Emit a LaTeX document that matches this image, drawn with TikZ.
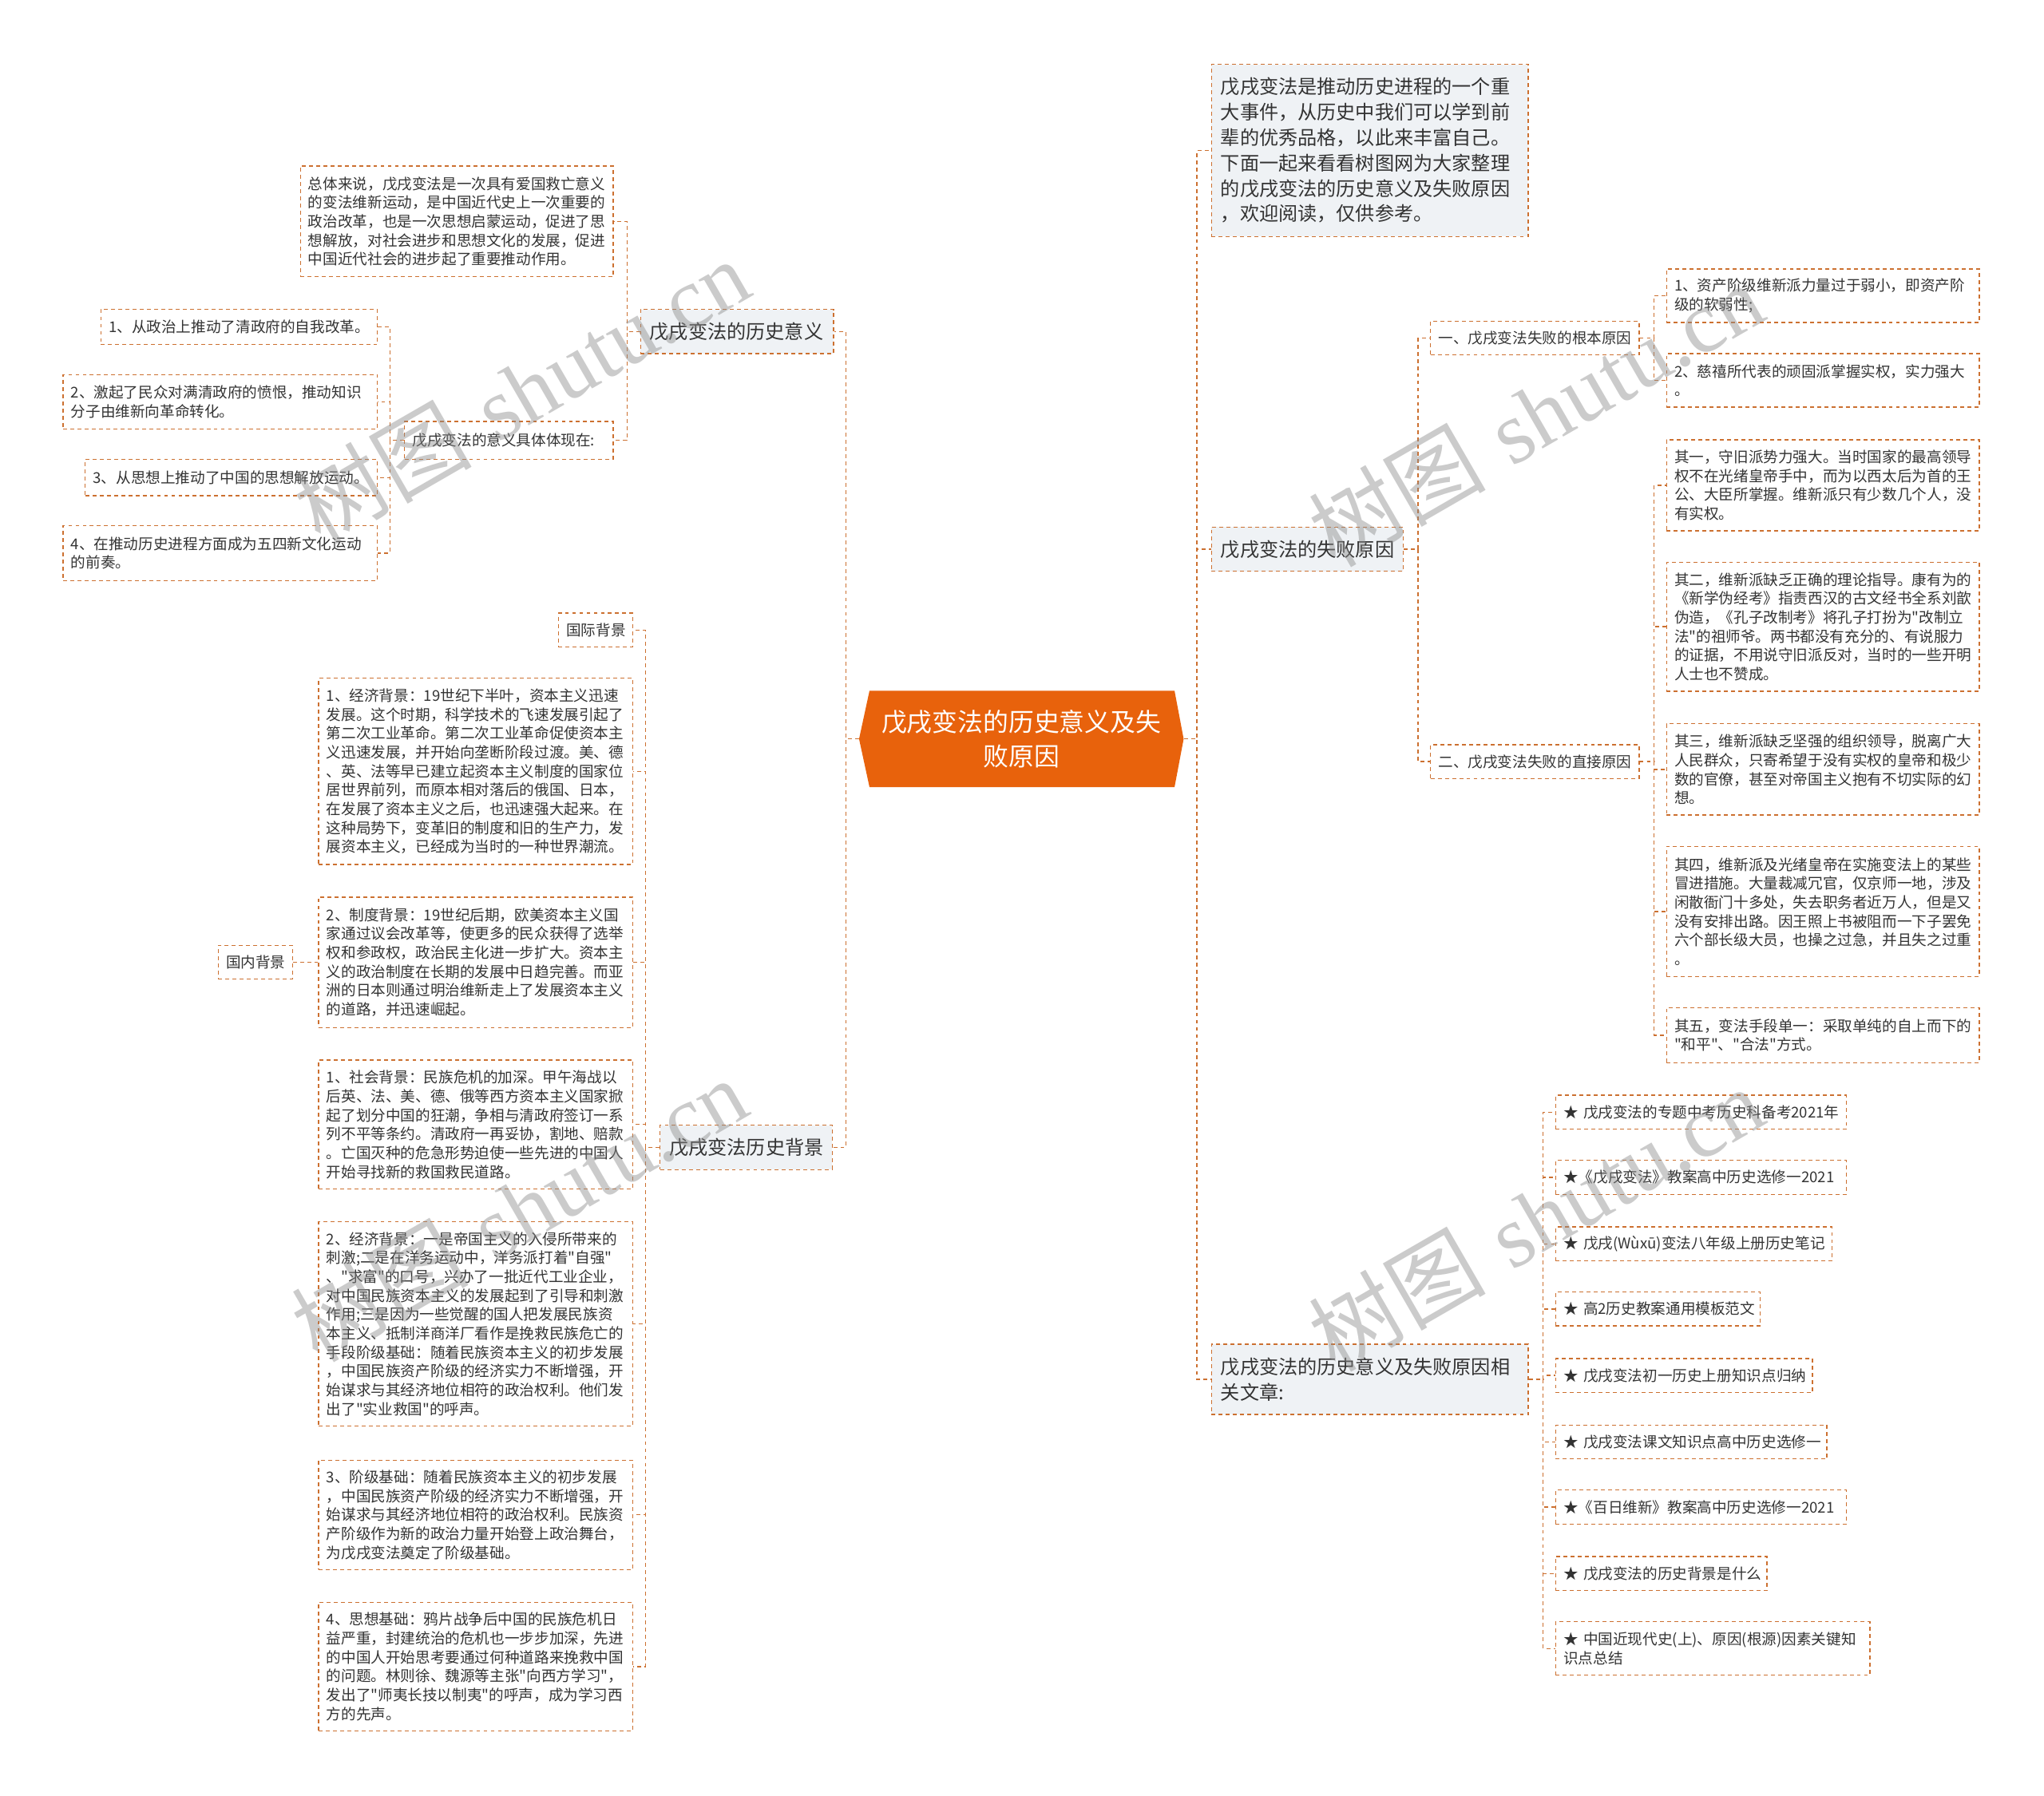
\documentclass[tikz,border=0pt]{standalone}
\usepackage{fontspec}
\newfontfamily\cjk{Noto Sans CJK SC}
\newfontfamily\shuiyinfont{Liberation Serif}
\definecolor{xianse}{RGB}{204,112,48}
\definecolor{zhuse}{RGB}{232,98,12}
\definecolor{huise}{RGB}{239,242,245}
\definecolor{wenzi}{RGB}{51,51,51}

\begin{document}
\begin{tikzpicture}[x=1pt, y=-1pt,
    lianxian/.style={draw=xianse, line width=0.8pt, dash pattern=on 3pt off 2.5pt},
    yezi/.style={draw=xianse, line width=0.8pt, dash pattern=on 3pt off 2.5pt,
      text=wenzi, font=\cjk\fontsize{11.4}{14.5}\selectfont, align=left,
      anchor=north west, inner xsep=6pt, inner ysep=0pt},
    fenzhi/.style={yezi, fill=huise, font=\cjk\fontsize{14.8}{19.5}\selectfont, inner xsep=7pt},
    shuiyin/.style={text=black!45, text opacity=0.45, rotate=30, font=\fontsize{68}{68}\selectfont}]
  \useasboundingbox (0,0) rectangle (1568,1378);

  % 中心主题
  \fill[zhuse] (659,567) -- (667,530) -- (901,530) -- (908,567) -- (901,604) -- (667,604) -- cycle;
  \node[text=white, font=\cjk\fontsize{19.5}{26}\selectfont, align=center,
    minimum width=249pt, minimum height=74pt, inner sep=0pt] (zhong) at (783.5,567)
    {戊戌变法的历史意义及失\\败原因};

  % 左侧：历史意义
  \node[fenzhi, text width=134pt, minimum height=34pt] (yiyi) at (491,237) {戊戌变法的历史意义};
  \node[yezi, text width=228pt, minimum height=85pt] (zongti) at (230,127)
    {总体来说，戊戌变法是一次具有爱国救亡意义\\的变法维新运动，是中国近代史上一次重要的\\政治改革，也是一次思想启蒙运动，促进了思\\想解放，对社会进步和思想文化的发展，促进\\中国近代社会的进步起了重要推动作用。};
  \node[yezi, text width=148pt, minimum height=29pt] (tixian) at (310,323) {戊戌变法的意义具体体现在:};
  \node[yezi, text width=200pt, minimum height=27pt] (tx1) at (77,237) {1、从政治上推动了清政府的自我改革。};
  \node[yezi, text width=229pt, minimum height=42pt] (tx2) at (48,287) {2、激起了民众对满清政府的愤恨，推动知识\\分子由维新向革命转化。};
  \node[yezi, text width=212pt, minimum height=28pt] (tx3) at (65,352) {3、从思想上推动了中国的思想解放运动。};
  \node[yezi, text width=229pt, minimum height=42pt] (tx4) at (48,403) {4、在推动历史进程方面成为五四新文化运动\\的前奏。};

  % 左侧：历史背景
  \node[fenzhi, text width=118pt, minimum height=34pt] (beijing) at (506,863) {戊戌变法历史背景};
  \node[yezi, text width=45pt, minimum height=26pt] (guoji) at (428,470) {国际背景};
  \node[yezi, text width=45pt, minimum height=26pt] (guonei) at (167,725) {国内背景};
  \node[yezi, text width=229pt, minimum height=143pt] (jingji1) at (244,520)
    {1、经济背景：19世纪下半叶，资本主义迅速\\发展。这个时期，科学技术的飞速发展引起了\\第二次工业革命。第二次工业革命促使资本主\\义迅速发展，并开始向垄断阶段过渡。美、德\\、英、法等早已建立起资本主义制度的国家位\\居世界前列，而原本相对落后的俄国、日本，\\在发展了资本主义之后，也迅速强大起来。在\\这种局势下，变革旧的制度和旧的生产力，发\\展资本主义，已经成为当时的一种世界潮流。};
  \node[yezi, text width=229pt, minimum height=100pt] (zhidu) at (244,688)
    {2、制度背景：19世纪后期，欧美资本主义国\\家通过议会改革等，使更多的民众获得了选举\\权和参政权，政治民主化进一步扩大。资本主\\义的政治制度在长期的发展中日趋完善。而亚\\洲的日本则通过明治维新走上了发展资本主义\\的道路，并迅速崛起。};
  \node[yezi, text width=229pt, minimum height=99pt] (shehui) at (244,813)
    {1、社会背景：民族危机的加深。甲午海战以\\后英、法、美、德、俄等西方资本主义国家掀\\起了划分中国的狂潮，争相与清政府签订一系\\列不平等条约。清政府一再妥协，割地、赔款\\。亡国灭种的危急形势迫使一些先进的中国人\\开始寻找新的救国救民道路。};
  \node[yezi, text width=229pt, minimum height=157pt] (jingji2) at (244,937)
    {2、经济背景：一是帝国主义的入侵所带来的\\刺激;二是在洋务运动中，洋务派打着"自强"\\、"求富"的口号，兴办了一批近代工业企业，\\对中国民族资本主义的发展起到了引导和刺激\\作用;三是因为一些觉醒的国人把发展民族资\\本主义、抵制洋商洋厂看作是挽救民族危亡的\\手段阶级基础：随着民族资本主义的初步发展\\，中国民族资产阶级的经济实力不断增强，开\\始谋求与其经济地位相符的政治权利。他们发\\出了"实业救国"的呼声。};
  \node[yezi, text width=229pt, minimum height=84pt] (jieji) at (244,1120)
    {3、阶级基础：随着民族资本主义的初步发展\\，中国民族资产阶级的经济实力不断增强，开\\始谋求与其经济地位相符的政治权利。民族资\\产阶级作为新的政治力量开始登上政治舞台，\\为戊戌变法奠定了阶级基础。};
  \node[yezi, text width=229pt, minimum height=99pt] (sixiang) at (244,1229)
    {4、思想基础：鸦片战争后中国的民族危机日\\益严重，封建统治的危机也一步步加深，先进\\的中国人开始思考要通过何种道路来挽救中国\\的问题。林则徐、魏源等主张"向西方学习"，\\发出了"师夷长技以制夷"的呼声，成为学习西\\方的先声。};

  % 右侧：导语与失败原因
  \node[fenzhi, text width=229pt, minimum height=132pt] (yinyan) at (929,49)
    {戊戌变法是推动历史进程的一个重\\大事件，从历史中我们可以学到前\\辈的优秀品格，以此来丰富自己。\\下面一起来看看树图网为大家整理\\的戊戌变法的历史意义及失败原因\\，欢迎阅读，仅供参考。};
  \node[fenzhi, text width=133pt, minimum height=34pt] (shibai) at (929,404) {戊戌变法的失败原因};
  \node[yezi, text width=148pt, minimum height=26pt] (genben) at (1097,246) {一、戊戌变法失败的根本原因};
  \node[yezi, text width=148pt, minimum height=26pt] (zhijie) at (1097,571) {二、戊戌变法失败的直接原因};
  \node[yezi, text width=228pt, minimum height=41pt] (gb1) at (1278,206) {1、资产阶级维新派力量过于弱小，即资产阶\\级的软弱性;};
  \node[yezi, text width=228pt, minimum height=41pt] (gb2) at (1278,271) {2、慈禧所代表的顽固派掌握实权，实力强大\\。};
  \node[yezi, text width=228pt, minimum height=70pt] (qi1) at (1278,337)
    {其一，守旧派势力强大。当时国家的最高领导\\权不在光绪皇帝手中，而为以西太后为首的王\\公、大臣所掌握。维新派只有少数几个人，没\\有实权。};
  \node[yezi, text width=228pt, minimum height=99pt] (qi2) at (1278,431)
    {其二，维新派缺乏正确的理论指导。康有为的\\《新学伪经考》指责西汉的古文经书全系刘歆\\伪造，《孔子改制考》将孔子打扮为"改制立\\法"的祖师爷。两书都没有充分的、有说服力\\的证据，不用说守旧派反对，当时的一些开明\\人士也不赞成。};
  \node[yezi, text width=228pt, minimum height=70pt] (qi3) at (1278,555)
    {其三，维新派缺乏坚强的组织领导，脱离广大\\人民群众，只寄希望于没有实权的皇帝和极少\\数的官僚，甚至对帝国主义抱有不切实际的幻\\想。};
  \node[yezi, text width=228pt, minimum height=100pt] (qi4) at (1278,649)
    {其四，维新派及光绪皇帝在实施变法上的某些\\冒进措施。大量裁减冗官，仅京师一地，涉及\\闲散衙门十多处，失去职务者近万人，但是又\\没有安排出路。因王照上书被阻而一下子罢免\\六个部长级大员，也操之过急，并且失之过重\\。};
  \node[yezi, text width=228pt, minimum height=42pt] (qi5) at (1278,773)
    {其五，变法手段单一：采取单纯的自上而下的\\"和平"、"合法"方式。};

  % 右侧：相关文章
  \node[fenzhi, text width=229pt, minimum height=54pt] (xiangguan) at (929,1031)
    {戊戌变法的历史意义及失败原因相\\关文章:};
  \foreach \i/\yy/\tw/\hh/\txt in {
      1/840/211/26/{★~戊戌变法的专题中考历史科备考2021年},
      2/890/211/26/{★《戊戌变法》教案高中历史选修一2021},
      3/941/200/26/{★~戊戌(Wùxū)变法八年级上册历史笔记},
      4/991/145/26/{★~高2历史教案通用模板范文},
      5/1042/185/26/{★~戊戌变法初一历史上册知识点归纳},
      6/1093/196/26/{★~戊戌变法课文知识点高中历史选修一},
      7/1143/211/26/{★《百日维新》教案高中历史选修一2021},
      8/1194/150/26/{★~戊戌变法的历史背景是什么},
      9/1244/229/41/{★~中国近现代史(上)、原因(根源)因素关键知\\识点总结}}
    \node[yezi, text width=\tw pt, minimum height=\hh pt] (wz\i) at (1193,\yy) {\txt};

  % 连线
  \foreach \n in {yiyi,beijing}
    \draw[lianxian] (zhong.west) -- ++(-10,0) |- (\n.east);
  \foreach \n in {yinyan,shibai,xiangguan}
    \draw[lianxian] (zhong.east) -- ++(10,0) |- (\n.west);
  \foreach \n in {zongti,tixian}
    \draw[lianxian] (yiyi.west) -- ++(-10,0) |- (\n.east);
  \foreach \n in {tx1,tx2,tx3,tx4}
    \draw[lianxian] (tixian.west) -- ++(-11,0) |- (\n.east);
  \foreach \n in {guoji,jingji1,zhidu,shehui,jingji2,jieji,sixiang}
    \draw[lianxian] (beijing.west) -- ++(-11,0) |- (\n.east);
  \draw[lianxian] (guonei.east) -- (zhidu.west);
  \foreach \n in {genben,zhijie}
    \draw[lianxian] (shibai.east) -- ++(11,0) |- (\n.west);
  \foreach \n in {gb1,gb2}
    \draw[lianxian] (genben.east) -- ++(11,0) |- (\n.west);
  \foreach \n in {qi1,qi2,qi3,qi4,qi5}
    \draw[lianxian] (zhijie.east) -- ++(11,0) |- (\n.west);
  \foreach \i in {1,...,9}
    \draw[lianxian] (xiangguan.east) -- ++(11,0) |- (wz\i.west);

  % 水印
  \foreach \i/\sx/\sy in {1/400/300, 2/398/928, 3/1178/318, 4/1178/935}
    \node[shuiyin] (shuiyin\i) at (\sx,\sy) {{\cjk 树图} {\shuiyinfont shutu.cn}};
\end{tikzpicture}
\end{document}
